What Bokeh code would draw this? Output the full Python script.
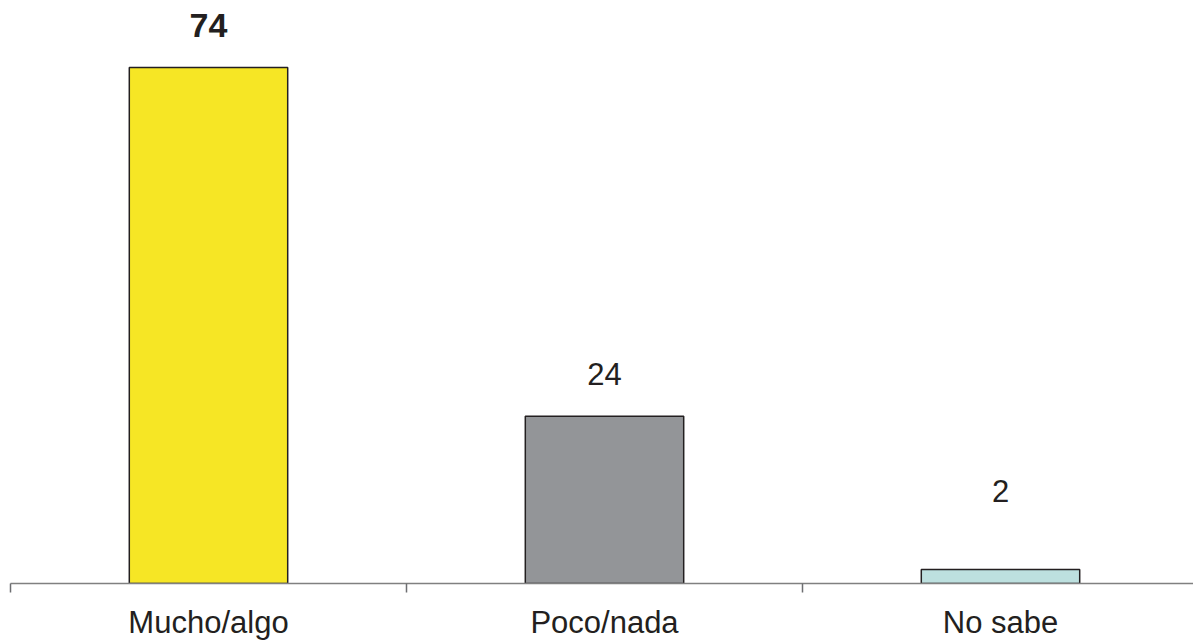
from bokeh.plotting import figure
from bokeh.models import ColumnDataSource, FixedTicker, Range1d
from bokeh.core.properties import value
from bokeh.embed import file_html
from bokeh.resources import INLINE
import numpy as np

categories = ["Mucho/algo", "Poco/nada", "No sabe"]
values = [74, 24, 2]
colors = ["#F6E625", "#939598", "#BDE0DF"]
label_styles = ["bold", "normal", "normal"]
label_sizes = ["34px", "31px", "31px"]

W, H = 1193, 642
left, bottom = 10, 59
plot_w = W - left
plot_h = H - bottom
cat_w = 396.0
px_per_unit = 516 / 74
x_end = plot_w / cat_w
y_end = plot_h / px_per_unit

p = figure(width=W, height=H, output_backend="svg", toolbar_location=None,
           x_range=Range1d(0, x_end), y_range=Range1d(0, y_end),
           min_border_left=left, min_border_right=0, min_border_top=0,
           min_border_bottom=bottom)
p.outline_line_color = None
p.xgrid.visible = False
p.ygrid.visible = False
p.yaxis.visible = False

xs = np.arange(len(categories)) + 0.5
src = ColumnDataSource(dict(x=xs, top=values, color=colors, cat=categories,
                            label=[str(v) for v in values],
                            ly=np.maximum(np.array(values) + 6.0, 13.3),
                            style=label_styles, size=label_sizes))
p.vbar(x="x", top="top", width=0.4, bottom=0, fill_color="color",
       line_color="#231F20", line_width=1.5, source=src)

p.text(x="x", y="ly", text="label", text_align="center", text_baseline="middle",
       text_font=value("Liberation Sans"), text_font_size="size",
       text_font_style="style", text_color="#231F20", source=src)

ax = p.xaxis[0]
ax.ticker = FixedTicker(ticks=list(xs), minor_ticks=[0, 1, 2])
ax.major_label_overrides = {float(x): c for x, c in zip(xs, categories)}
ax.major_tick_out = 0
ax.major_tick_in = 0
ax.minor_tick_out = 9
ax.minor_tick_in = 0
ax.minor_tick_line_color = "#6D6E71"
ax.minor_tick_line_width = 1.5
ax.axis_line_color = "#808080"
ax.axis_line_width = 1.5
ax.major_label_text_font = "Liberation Sans"
ax.major_label_text_font_size = "31px"
ax.major_label_text_color = "#231F20"
ax.major_label_standoff = 12

open("out.html", "w").write(file_html(p, INLINE))
